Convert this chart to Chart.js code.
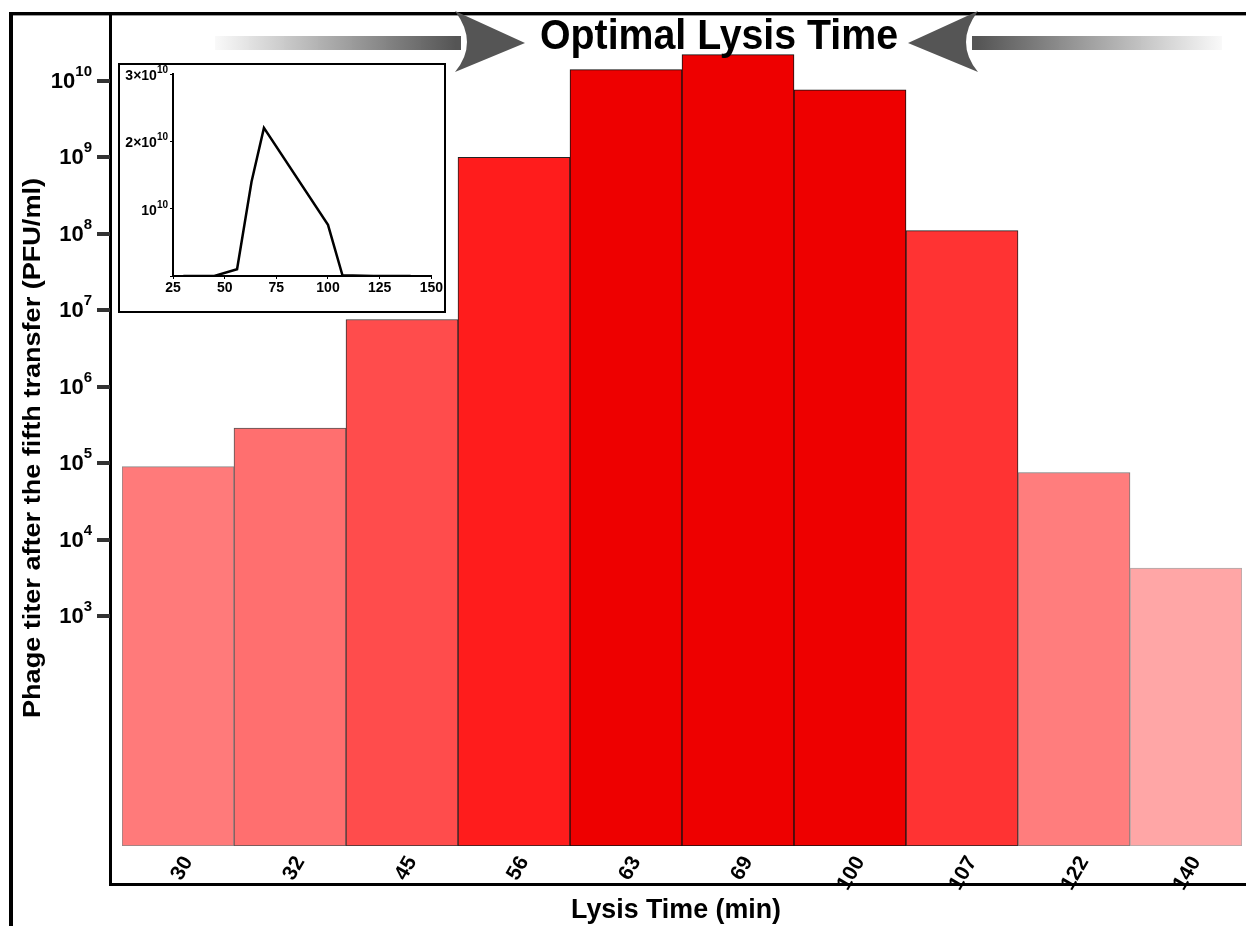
<!DOCTYPE html>
<html><head><meta charset="utf-8">
<script src="https://cdn.jsdelivr.net/npm/chart.js@4.4.1/dist/chart.umd.min.js"></script>
<style>
html,body{margin:0;padding:0;background:#fff;}
#wrap{position:relative;width:1246px;height:926px;overflow:hidden;}
#main{position:absolute;left:0;top:0;}
#insetBox{position:absolute;left:118px;top:63px;width:324px;height:246px;border:2px solid #000;background:#fff;}
#inset{display:block;}
</style></head><body>
<div id="wrap"><canvas id="main" width="1246" height="926"></canvas>
<div id="insetBox"><canvas id="inset" width="324" height="246"></canvas></div></div>
<script>
// ---- data ----
const categories = ['30','32','45','56','63','69','100','107','122','140'];
const lysisMinutes = [30, 32, 45, 56, 63, 69, 100, 107, 122, 140];
const titerValues = [9.1e4, 2.9e5, 7.6e6, 1.0e9, 1.4e10, 2.2e10, 7.6e9, 1.1e8, 7.6e4, 4.3e3];
const barColors = ['#ff7a7a','#ff6f6f','#ff4c4c','#ff1c1c','#ee0000','#ee0000','#ee0000','#ff3333','#ff7d7d','#ffa6a6'];
const barBorders = ['#888888','#555555','#333333','#222222','#111111','#111111','#111111','#222222','#777777','#aaaaaa'];
const yTickValues = [1e3, 1e4, 1e5, 1e6, 1e7, 1e8, 1e9, 1e10];
const insetXTicks = [25, 50, 75, 100, 125, 150];
const insetYTicks = [0, 1e10, 2e10, 3e10];
const titleText = 'Optimal Lysis Time';
const xTitleText = 'Lysis Time (min)';
const yTitleText = 'Phage titer after the fifth transfer (PFU/ml)';

const FONT = '"Liberation Sans", Arial, "DejaVu Sans", sans-serif';
const NARROW = '"Liberation Sans Narrow", "Liberation Sans", Arial, sans-serif';

function fitText(ctx, text, x, y, width, font, rot) {
  ctx.save();
  ctx.font = font;
  const w = ctx.measureText(text).width;
  ctx.translate(x, y);
  if (rot) ctx.rotate(rot);
  ctx.scale(width / w, 1);
  ctx.textAlign = 'center';
  ctx.textBaseline = 'alphabetic';
  ctx.fillStyle = '#000';
  ctx.fillText(text, 0, 0);
  ctx.restore();
}

// draw "base" with a superscript exponent, right edge at xr
function powerLabel(ctx, base, exp, xr, y, baseSize, expSize, baseDy, expDy) {
  ctx.save();
  ctx.fillStyle = '#000';
  ctx.textBaseline = 'alphabetic';
  ctx.textAlign = 'left';
  ctx.font = 'bold ' + expSize + 'px ' + FONT;
  const we = ctx.measureText(exp).width;
  ctx.font = 'bold ' + baseSize + 'px ' + FONT;
  const wb = ctx.measureText(base).width;
  ctx.fillText(base, xr - we - wb, y + baseDy);
  ctx.font = 'bold ' + expSize + 'px ' + FONT;
  ctx.fillText(exp, xr - we, y + expDy);
  ctx.restore();
}

function arrow(ctx, dir) {
  const tip = dir === 1 ? 525 : 908;
  const back = dir === 1 ? 455 : 978;
  const tail = dir === 1 ? 215 : 1222;
  const cy = 43;
  const g = ctx.createLinearGradient(tail, 0, back, 0);
  g.addColorStop(0, 'rgba(85,85,85,0.03)');
  g.addColorStop(1, 'rgba(85,85,85,1)');
  ctx.fillStyle = g;
  const sx = Math.min(tail, back + 6 * dir), ex = Math.max(tail, back + 6 * dir);
  ctx.fillRect(sx, cy - 7, ex - sx, 14);
  ctx.fillStyle = '#555';
  ctx.beginPath();
  ctx.moveTo(tip, cy);
  ctx.lineTo(back, 11);
  ctx.quadraticCurveTo(back + 24 * dir, cy, back, 72);
  ctx.closePath();
  ctx.fill();
}

const decor = {
  id: 'decor',
  afterDraw(chart) {
    const ctx = chart.ctx;
    ctx.save();
    ctx.fillStyle = '#000';
    ctx.fillRect(9, 12, 4, 914);      // outer left
    ctx.fillRect(9, 12, 1237, 3);     // top
    ctx.fillStyle = '#999';
    ctx.fillRect(13, 15, 1233, 1);
    ctx.fillStyle = '#000';
    ctx.fillRect(109, 13, 3, 873);    // inner left
    ctx.fillRect(109, 883, 1137, 3);  // inner bottom
    const ys = chart.scales.y;
    ys.ticks.forEach(t => {
      const p = Math.round(ys.getPixelForValue(t.value));
      ctx.fillStyle = '#333';
      ctx.fillRect(97, p - 2, 13, 4);
      powerLabel(ctx, '10', String(Math.round(Math.log10(t.value))), 92, p, 22, 15, 7, -5);
    });
    arrow(ctx, 1);
    arrow(ctx, -1);
    fitText(ctx, titleText, 719, 49, 358, 'bold 42px ' + NARROW, 0);
    fitText(ctx, xTitleText, 676, 918, 210, 'bold 28px ' + NARROW, 0);
    fitText(ctx, yTitleText, 40, 448, 540, 'bold 23px ' + FONT, -Math.PI / 2);
    ctx.restore();
  }
};

new Chart(document.getElementById('main'), {
  type: 'bar',
  data: {
    labels: categories,
    datasets: [{
      data: titerValues,
      backgroundColor: barColors,
      borderColor: barBorders,
      borderWidth: 1,
      categoryPercentage: 1,
      barPercentage: 1,
      borderSkipped: false
    }]
  },
  options: {
    responsive: false,
    animation: false,
    devicePixelRatio: 1,
    layout: { padding: { left: 0, top: 13, right: 4, bottom: 0 } },
    plugins: { legend: { display: false }, tooltip: { enabled: false } },
    scales: {
      x: {
        type: 'category',
        grid: { display: false, drawTicks: false },
        border: { display: false },
        ticks: {
          color: '#000',
          font: { family: FONT, size: 21, weight: 'bold' },
          minRotation: 60, maxRotation: 60,
          padding: 6,
          labelOffset: 10
        },
        afterFit(s) { s.height = 80; }
      },
      y: {
        type: 'logarithmic',
        min: 1,
        max: 7.7e10,
        grid: { display: false, drawTicks: false },
        border: { display: false },
        afterBuildTicks(s) { s.ticks = yTickValues.map(v => ({ value: v })); },
        ticks: { display: false },
        afterFit(s) { s.width = 122; }
      }
    }
  },
  plugins: [decor]
});

const insetDecor = {
  id: 'insetDecor',
  afterDraw(chart) {
    const ctx = chart.ctx;
    const ys = chart.scales.y;
    const xr = ys.right - 5;
    ys.ticks.forEach(t => {
      if (t.value === 0) return;
      const p = ys.getPixelForValue(t.value);
      const m = Math.round(t.value / 1e10);
      powerLabel(ctx, m === 1 ? '10' : m + '×10', '10', xr, p, 14, 10, 6, -1);
    });
  }
};

new Chart(document.getElementById('inset'), {
  type: 'line',
  data: {
    datasets: [{
      data: lysisMinutes.map((m, i) => ({ x: m, y: titerValues[i] })),
      borderColor: '#000',
      borderWidth: 2.5,
      pointRadius: 0,
      tension: 0,
      fill: false
    }]
  },
  options: {
    responsive: false,
    animation: false,
    devicePixelRatio: 1,
    layout: { padding: { left: 0, top: 9, right: 2, bottom: 0 } },
    plugins: { legend: { display: false }, tooltip: { enabled: false } },
    scales: {
      x: {
        type: 'linear', min: 25, max: 150,
        afterBuildTicks(s) { s.ticks = insetXTicks.map(v => ({ value: v })); },
        grid: { drawOnChartArea: false, tickLength: 3, color: '#000', tickWidth: 1 },
        border: { display: true, color: '#000', width: 2 },
        ticks: { color: '#000', padding: 1, maxRotation: 0, font: { family: FONT, size: 14, weight: 'bold' } },
        afterFit(s) { s.height = 35; }
      },
      y: {
        type: 'linear', min: 0, max: 3e10,
        afterBuildTicks(s) { s.ticks = insetYTicks.map(v => ({ value: v })); },
        grid: { drawOnChartArea: false, tickLength: 3, color: '#000', tickWidth: 1 },
        border: { display: true, color: '#000', width: 2 },
        ticks: { display: false },
        afterFit(s) { s.width = 53; }
      }
    }
  },
  plugins: [insetDecor]
});
</script>
</body></html>
